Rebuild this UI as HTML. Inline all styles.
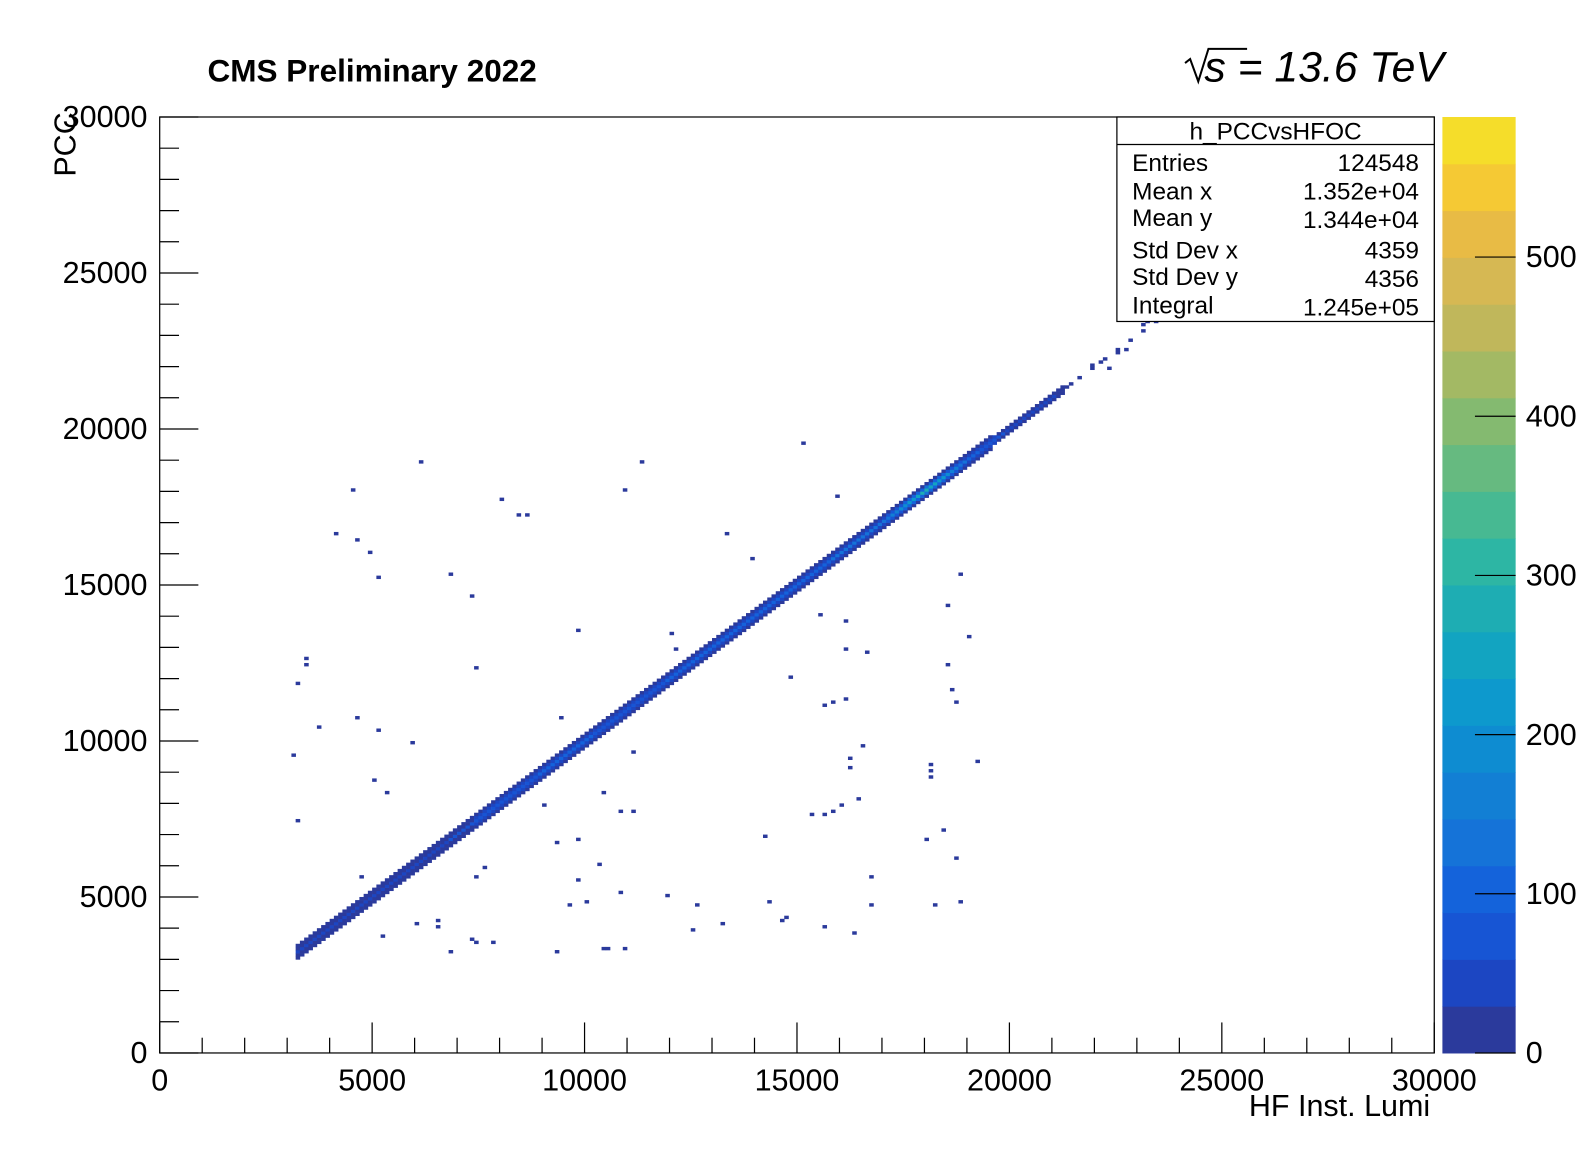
<!DOCTYPE html>
<html><head><meta charset="utf-8"><style>
html,body{margin:0;padding:0;background:#fff;overflow:hidden;width:1596px;height:1172px}
svg{display:block;font-family:"Liberation Sans",sans-serif}
</style></head><body>
<svg id="c" width="1596" height="1172" viewBox="0 0 1569 1152" preserveAspectRatio="none" xmlns="http://www.w3.org/2000/svg">
<rect width="1596" height="1172" fill="#fff"/>
<text x="204" y="80" font-size="31" font-weight="bold">CMS Preliminary 2022</text>
<g>
<path d="M1165 62 l5 -4 l8 22 l10 -32 h38" fill="none" stroke="#000" stroke-width="2"/>
<text x="1184" y="80" font-size="42" font-style="italic">s = 13.6 TeV</text>
</g>
<g id="cells"></g>
<rect x="157" y="115" width="1253" height="920" fill="none" stroke="#000" stroke-width="1.2"/>
<g id="axes"></g>
<g id="pal"></g>
<text x="80" y="148" font-size="30" transform="rotate(-90 74 148)" text-anchor="middle">PCC</text>
<text x="1406" y="1097" font-size="30" text-anchor="end">HF Inst. Lumi</text>
<g font-size="24">
<rect x="1098" y="115" width="312" height="201" fill="#fff" stroke="#000" stroke-width="1.2"/>
<line x1="1098" y1="142" x2="1410" y2="142" stroke="#000" stroke-width="1.2"/>
<text x="1254" y="137" text-anchor="middle">h_PCCvsHFOC</text>
<text x="1113" y="168">Entries</text><text x="1395" y="168" text-anchor="end">124548</text>
<text x="1113" y="196">Mean x</text><text x="1395" y="196" text-anchor="end">1.352e+04</text>
<text x="1113" y="222">Mean y</text><text x="1395" y="224" text-anchor="end">1.344e+04</text>
<text x="1113" y="254">Std Dev x</text><text x="1395" y="254" text-anchor="end">4359</text>
<text x="1113" y="280">Std Dev y</text><text x="1395" y="282" text-anchor="end">4356</text>
<text x="1113" y="308">Integral</text><text x="1395" y="310" text-anchor="end">1.245e+05</text>
</g>
</svg>
<script>
const bandX=[3200,4000,5000,6000,7000,8000,9000,10000,11000,12000,13000,14000,15000,16000,17000,18000,19000,20000,21000,21400,22500,23500,24500,25000];
const bandPeak=[40,50,55,55,60,80,90,90,80,90,90,100,110,120,130,280,100,50,30,10,8,8,8,5];
const bandHalf=[2,2,2,2,2,2,2,2,2,2,2,2,2,2,2,2,2,1,1,0,0,0,0,0];
const outX=[6105,11300,15155,8090,8400,8640,10990,4500,4165,4600,4910,5100,6800,7325,13380,13960,15990,3400,3450,3255,3780,3110,4620,5150,5940,7445,9890,9410,10415,10820,11100,9890,9075,11130,12040,12110,14820,15510,16110,16110,16640,15820,16160,15680,16590,16230,16210,15390,15600,15800,16000,16460,18550,18880,19050,18530,18720,18650,19220,18100,18190,18170,18460,18030,18700,16710,16740,18840,18270,3255,5080,5390,4760,5265,6080,6500,6520,7490,7680,7370,7440,7800,6850,9360,10440,10560,10990,9650,9820,10080,10870,11920,12620,12540,13290,14220,14360,14680,14780,15660,16310,10370,9360,21970,22140,22380,22700,22580,23150,23290,23790,24150,24520,24760,24950,25930,25980];
const outY=[18940,18940,19590,17770,17245,17245,18030,18000,16625,16460,16040,15290,15390,14640,16690,15810,17865,12650,12490,11800,10465,9585,10790,10370,9975,12390,13590,10725,8345,7760,7760,6845,7985,9620,13430,12980,12030,14050,13850,12940,12870,11250,11380,11120,9810,9420,9190,7630,7660,7700,7920,8150,14310,15390,13300,12420,11210,11600,9360,9270,8800,9080,7170,6840,6280,5640,4760,4890,4760,7470,8740,8380,5640,3750,4130,4230,4060,5640,5970,3650,3500,3500,3280,3260,3330,3330,3390,4760,5580,4890,5150,5090,4730,3990,4100,6950,4890,4250,4340,4010,3850,6000,6780,22040,22170,21940,22560,22400,23310,23470,23960,24380,24610,24900,25060,25880,25420];
const palColors=["#2b3a9c","#1c46c2","#1755d4","#1463db","#1573d8","#127fd4","#0e8cd1","#0d99cd","#12a4c1","#1eadb3","#2db6a4","#47b992","#66ba80","#84ba70","#a3b964","#c0b75b","#d6b853","#e8bb45","#f5c934","#f5dd2a","#f5f51d"];
const palTicks=[0,100,200,300,400,500];
const xTicks=[0,5000,10000,15000,20000,25000,30000];
const yTicks=[0,5000,10000,15000,20000,25000,30000];

const NS="http://www.w3.org/2000/svg";
const X0=157,X1=1410,Y0=1035,Y1=115,XMAX=30000,YMAX=30000,ZMAX=588;
const sx=v=>X0+(X1-X0)*v/XMAX, sy=v=>Y0-(Y0-Y1)*v/YMAX;
const sz=v=>1035-920*v/ZMAX;
function mk(tag,at,parent){const e=document.createElementNS(NS,tag);for(const k in at)e.setAttribute(k,at[k]);parent.appendChild(e);return e;}
function col(v){let i=Math.floor(v/(ZMAX/20));if(i<0)i=0;if(i>19)i=19;return palColors[i];}
const cells=document.getElementById('cells');
const bw=sx(100)-sx(0), bh=sy(0)-sy(100);
function cell(x,y,v){
  const r=mk('rect',{x:sx(x),y:sy(y+100),width:bw+0.3,height:bh+0.3,fill:col(v)},cells);
  
  
}
function interp(arr,x){
  for(let i=0;i<bandX.length-1;i++){if(x>=bandX[i]&&x<=bandX[i+1]){const t=(x-bandX[i])/(bandX[i+1]-bandX[i]);return arr[i]+(arr[i+1]-arr[i])*t;}}
  return 0;
}
for(let x=bandX[0];x<=bandX[bandX.length-1];x+=100){
  const pk=interp(bandPeak,x), hw=Math.round(interp(bandHalf,x));
  const sparse=x>21400;
  if(sparse && (x/100)%3!==0) continue;
  for(let d=-hw;d<=hw;d++){
    const v=pk*Math.exp(-d*d/1.2);
    cell(x,x+d*100,Math.max(v,5));
  }
}
for(let i=0;i<outX.length;i++){cell(Math.floor(outX[i]/100)*100,Math.floor(outY[i]/100)*100,5);}

const ax=document.getElementById('axes');
for(let v=0;v<=XMAX;v+=1000){const maj=v%5000===0;const l=mk('line',{x1:sx(v),x2:sx(v),y1:Y0,y2:Y0-(maj?30:15),stroke:'#000','stroke-width':1.2},ax);}
for(let v=0;v<=YMAX;v+=1000){const maj=v%5000===0;const l=mk('line',{x1:X0,x2:X0+(maj?38:19),y1:sy(v),y2:sy(v),stroke:'#000','stroke-width':1.2},ax);}
xTicks.forEach(v=>{const t=mk('text',{x:sx(v),y:1072,'font-size':30,'text-anchor':'middle'},ax);t.textContent=v;});
yTicks.forEach(v=>{const t=mk('text',{x:145,y:sy(v)+10,'font-size':30,'text-anchor':'end'},ax);t.textContent=v;});

const pal=document.getElementById('pal');
for(let i=0;i<20;i++){const r=mk('rect',{x:1418,y:1035-46*(i+1),width:72,height:46.5,fill:palColors[i]},pal);}
palTicks.forEach(v=>{const l=mk('line',{x1:1450,x2:1490,y1:sz(v),y2:sz(v),stroke:'#000','stroke-width':1.2},pal);
const t=mk('text',{x:1500,y:sz(v)+10,'font-size':30},pal);t.textContent=v;});
</script>
</body></html>
